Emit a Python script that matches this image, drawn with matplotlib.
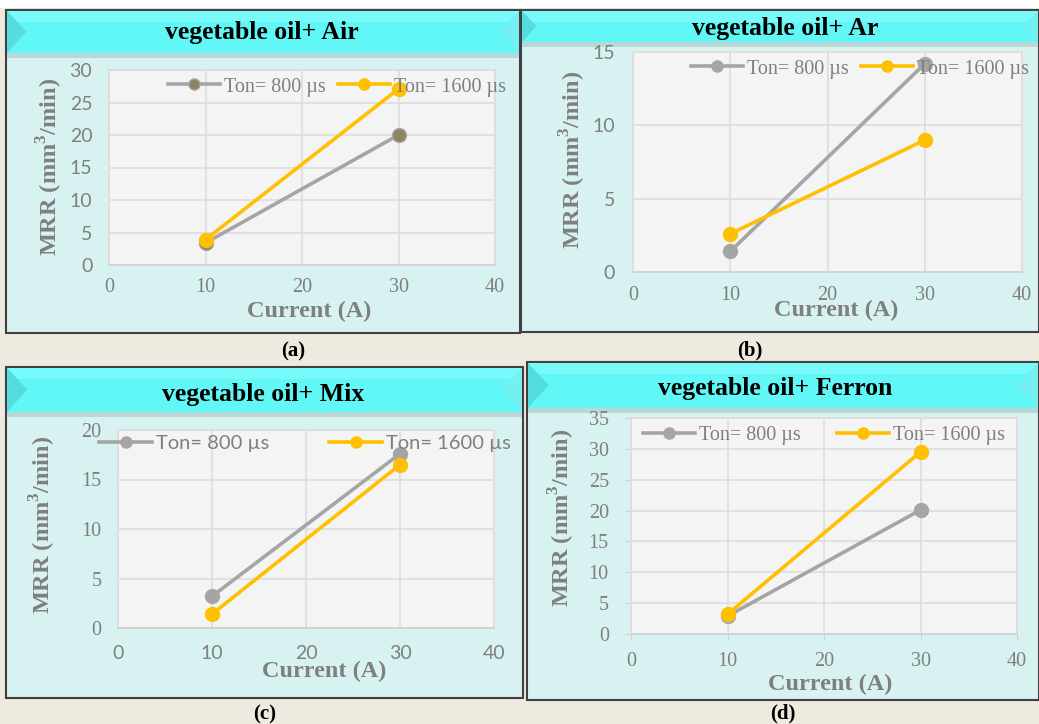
import matplotlib
matplotlib.use("Agg")
import matplotlib.pyplot as plt
from matplotlib.patches import Rectangle, Polygon

W, H = 1039, 724

# data
current = [10, 30]
air_800 = [3.4, 20.0]
air_1600 = [3.9, 27.1]
ar_800 = [1.4, 14.2]
ar_1600 = [2.6, 9.0]
mix_800 = [3.2, 17.6]
mix_1600 = [1.4, 16.5]
ferron_800 = [2.9, 20.1]
ferron_1600 = [3.2, 29.5]

titles = ["vegetable oil+ Air", "vegetable oil+ Ar", "vegetable oil+ Mix", "vegetable oil+ Ferron"]
sub_labels = ["(a)", "(b)", "(c)", "(d)"]
legend_labels = ["Ton= 800 \u00b5s", "Ton= 1600 \u00b5s"]
ymax = [30, 15, 20, 35]
ystep = [5, 5, 5, 5]

SERIF = "Liberation Serif"
SANS = "Lato"
GRAY = "#A5A5A5"
YELLOW = "#FFC000"
TXT = "#7F7F7F"

fig = plt.figure(figsize=(W / 100, H / 100), dpi=100)
fig.patch.set_facecolor("white")


def fx(x):
    return x / W


def fy(y):
    return 1 - y / H


def rect(x0, y0, x1, y1, **kw):
    fig.patches.append(Rectangle((fx(x0), fy(y1)), fx(x1) - fx(x0), fy(y0) - fy(y1),
                                 transform=fig.transFigure, **kw))


# beige background behind everything below the top margin
rect(0, 8, W, H, facecolor="#EEEADF", edgecolor="none", zorder=0)

# panel boxes: (x0, y0, x1, y1, banner bottom)
boxes = [(6, 10, 520, 333, 53), (521, 10, 1039, 332, 42),
         (6, 367, 523, 698, 412), (527, 362, 1039, 700, 408)]
for x0, y0, x1, y1, yb in boxes:
    rect(x0, y0, x1, y1, facecolor="#D8F2F2", edgecolor="#404040", linewidth=1.5, zorder=1)
    rect(x0 + 1, y0 + 1, x1 - 1, yb, facecolor="#62F7F7", edgecolor="none", zorder=1.1)
    rect(x0 + 1, y0 + 1, x1 - 1, y0 + 12, facecolor="#78FAFA", edgecolor="none", zorder=1.1)
    rect(x0 + 1, yb, x1 - 1, yb + 5, facecolor="#B8D8D8", edgecolor="none", zorder=1.1)
    # bevel triangles on the banner ends
    hb = yb - y0
    fig.patches.append(Polygon([(fx(x0 + 1), fy(y0 + 1)), (fx(x0 + 1 + hb * 0.45), fy(y0 + hb * 0.5)),
                                (fx(x0 + 1), fy(yb))], closed=True, transform=fig.transFigure,
                               facecolor="#55DCDC", edgecolor="none", zorder=1.2))
    fig.patches.append(Polygon([(fx(x1 - 1), fy(y0 + 1)), (fx(x1 - 1 - hb * 0.45), fy(y0 + hb * 0.5)),
                                (fx(x1 - 1), fy(yb))], closed=True, transform=fig.transFigure,
                               facecolor="#74F0F0", edgecolor="none", zorder=1.2))

title_pos = [(262, 33), (785, 29), (263, 394), (775, 388)]
for t, (x, y) in zip(titles, title_pos):
    fig.text(fx(x), fy(y), t, ha="center", va="center", fontsize=18.5, fontweight="bold",
             family=SERIF, color="black", zorder=5)

sub_pos = [(293, 351), (750, 350), (265, 714), (783, 713)]
for t, (x, y) in zip(sub_labels, sub_pos):
    fig.text(fx(x), fy(y), t, ha="center", va="center", fontsize=15, fontweight="bold",
             family=SERIF, color="black", zorder=5)

# plot areas in pixels: x0, x1 (data 0..40), ytop, ybottom
areas = [(109, 495, 70, 265), (633, 1022, 52, 272), (118, 494, 430, 628), (631, 1017, 418, 634)]
ylab_x = [50, 573, 43, 562]
ylab_y = [167, 160, 525, 518]
xlab_y = [311, 310, 671, 684]
xlab_x = [309, 836, 324, 830]
ytick_font = [SANS, SANS, SERIF, SERIF]
xtick_font = [SERIF, SERIF, SANS, SERIF]
leg_font = [SERIF, SERIF, SANS, SERIF]
leg_pos = [(337, 87), (860, 69), (305, 443), (824, 435)]
leg_colsp = [0.6, 0.6, 3.0, 1.8]
gray_face = ["#8C8660", GRAY, GRAY, GRAY]
ypad = [12, 13, 12, 12]
xpad = [9, 10, 12, 9]

series = [(air_800, air_1600), (ar_800, ar_1600), (mix_800, mix_1600), (ferron_800, ferron_1600)]

for i, (s800, s1600) in enumerate(series):
    x0, x1, yt, ybt = areas[i]
    ax = fig.add_axes([fx(x0), fy(ybt), fx(x1) - fx(x0), fy(yt) - fy(ybt)])
    ax.set_zorder(3)
    ax.set_facecolor("#F4F4F4")
    ax.set_xlim(0, 40)
    ax.set_ylim(0, ymax[i])
    ax.set_xticks(range(0, 41, 10))
    ax.set_yticks(range(0, ymax[i] + 1, ystep[i]))
    ax.grid(True, color="#DDDDDD", linewidth=1.2)
    ax.set_axisbelow(True)
    for sp in ax.spines.values():
        sp.set_color("#DDDDDD")
        sp.set_linewidth(1.2)
    ax.spines["bottom"].set_color("#D0D0D0")

    tl = 4 if i == 3 else 0
    ax.tick_params(axis="both", length=tl, color="#D0D0D0", labelcolor=TXT)
    ax.tick_params(axis="y", pad=ypad[i], labelsize=14.5 if ytick_font[i] == SERIF else 14)
    ax.tick_params(axis="x", pad=xpad[i], labelsize=14.5 if xtick_font[i] == SERIF else 14)
    for lab in ax.get_yticklabels():
        lab.set_family(ytick_font[i])
    for lab in ax.get_xticklabels():
        lab.set_family(xtick_font[i])

    l1, = ax.plot(current, s800, color=GRAY, linewidth=2.6, marker="o", markersize=10,
                  markerfacecolor=gray_face[i], markeredgecolor=GRAY, clip_on=False, zorder=4)
    l2, = ax.plot(current, s1600, color=YELLOW, linewidth=2.6, marker="o", markersize=10,
                  markerfacecolor=YELLOW, markeredgecolor=YELLOW, clip_on=False, zorder=5)

    lx, ly = leg_pos[i]
    leg = fig.legend([l1, l2], legend_labels, loc="center", bbox_to_anchor=(fx(lx), fy(ly)),
                     ncol=2, frameon=False, handlelength=2.6, handletextpad=0.2,
                     columnspacing=leg_colsp[i], markerscale=0.8,
                     prop={"family": leg_font[i], "size": 14.5})
    for txt in leg.get_texts():
        txt.set_color(TXT)
    leg.set_zorder(6)

    fig.text(fx(ylab_x[i]), fy(ylab_y[i]), "MRR (mm$^{\\mathregular{3}}$/min)", rotation=90,
             ha="center", va="center", fontsize=17.5, fontweight="bold", family=SERIF,
             color=TXT, zorder=5)
    fig.text(fx(xlab_x[i]), fy(xlab_y[i]), "Current (A)", ha="center", va="center",
             fontsize=17.5, fontweight="bold", family=SERIF, color=TXT, zorder=5)

fig.savefig("out.png", dpi=100)
